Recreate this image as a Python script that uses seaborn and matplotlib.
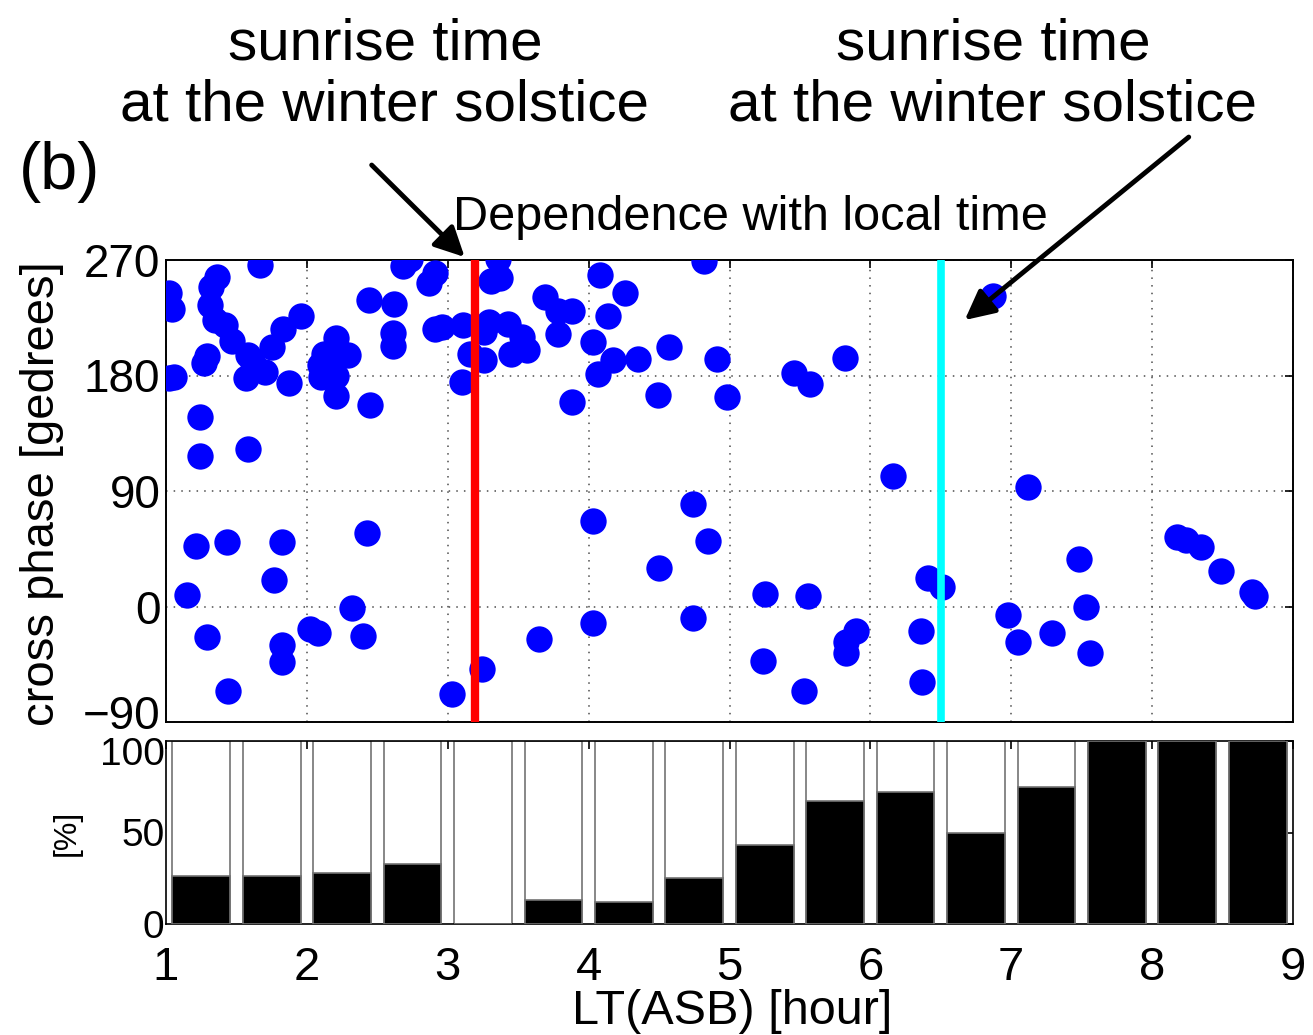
import numpy as np
import pandas as pd
import matplotlib
matplotlib.use("Agg")
import matplotlib.pyplot as plt
import matplotlib.transforms as mtransforms
import seaborn as sns

# ---------------- data ----------------
lt_hour = [
    1.02, 1.04, 1.36, 1.32, 1.31, 1.35, 1.42, 1.47, 1.67, 1.83, 1.96, 1.75, 1.58, 1.62, 1.70, 1.57,
    1.29, 1.27, 1.02, 1.06, 1.87, 1.24, 1.24, 1.58,
    2.21, 2.20, 2.12, 2.29, 2.09, 2.16, 2.10, 2.21, 2.21, 2.45, 2.44, 2.62, 2.61, 2.61, 2.68, 2.73,
    2.87, 2.91, 2.91, 2.96, 3.11, 3.16, 3.26, 3.10, 3.29, 3.26,
    3.36, 3.31, 3.37, 3.43, 3.53, 3.45, 3.56, 3.69, 3.78, 3.88, 3.78, 3.88, 4.08, 4.26, 4.14, 4.03,
    4.17, 4.07, 4.35, 4.57, 4.49, 4.82, 4.91, 4.98, 5.46, 5.57, 5.82, 6.16, 6.87, 7.12,
    1.21, 1.43, 1.82, 1.77, 1.15, 1.29, 1.82, 1.82, 1.44, 2.02, 2.08, 2.32, 2.40, 2.43, 3.03, 3.24,
    3.65, 4.03, 4.03, 4.50, 4.74, 4.85, 4.74, 5.25, 5.56, 5.24, 5.53, 5.90, 5.83, 5.83, 6.41, 6.51,
    6.36, 6.37, 6.98, 7.05, 7.29, 7.48, 7.53, 7.56, 8.18, 8.24, 8.35, 8.49, 8.71, 8.73,
]
cross_phase = [
    244, 232, 257, 249, 235, 223, 219, 207, 266, 216, 226, 202, 196, 190, 183, 178,
    195, 190, 178, 179, 174, 148, 117, 123,
    209, 200, 197, 196, 188, 187, 179, 180, 164, 157, 239, 236, 213, 203, 265, 271,
    252, 260, 216, 218, 219, 197, 192, 175, 222, 214,
    271, 254, 256, 220, 210, 197, 200, 241, 230, 230, 212, 159, 258, 244, 226, 206,
    192, 181, 193, 202, 165, 269, 193, 163, 182, 173, 194, 102, 242, 93,
    47, 50.5, 50, 21, 9, -23.5, -30, -43, -66, -17.5, -21, -1, -23, 57, -68, -49,
    -25, 67, -12.6, 30, 80, 51, -9, 10, 8, -42.5, -66, -19, -28, -36, 22, 15,
    -19, -59, -7, -28, -21, 37, 0, -36, 54, 52, 46, 28, 11, 8,
]
bin_center = [1.25, 1.75, 2.25, 2.75, 3.25, 3.75, 4.25, 4.75,
              5.25, 5.75, 6.25, 6.75, 7.25, 7.75, 8.25, 8.75]
percent = [26, 26, 28, 33, 0, 13, 12, 25, 43, 67, 72, 50, 75, 100, 100, 100]
full = [100] * len(bin_center)

sunrise_red = 3.19
sunrise_cyan = 6.50
y_ticks = [-90, 0, 90, 180, 270]
pct_ticks = [0, 50, 100]
x_ticks = [1, 2, 3, 4, 5, 6, 7, 8, 9]

df = pd.DataFrame({"LT": lt_hour, "phase": cross_phase})

# ---------------- style ----------------
sns.set_theme(style="white")
plt.rcParams["font.family"] = ["Liberation Sans", "DejaVu Sans"]
plt.rcParams["axes.unicode_minus"] = True
for key in ["text.color", "axes.labelcolor", "xtick.color", "ytick.color",
            "xtick.labelcolor", "ytick.labelcolor", "axes.edgecolor"]:
    plt.rcParams[key] = "black"

W, H = 1313, 1035
fig = plt.figure(figsize=(W / 100, H / 100), dpi=100)
ax = fig.add_axes([166 / W, 1 - 722 / H, 1127 / W, 462 / H])
ax2 = fig.add_axes([166 / W, 1 - 924 / H, 1127 / W, 183 / H])

# ---- top panel ----
sns.scatterplot(data=df, x="LT", y="phase", ax=ax, color=(0, 0, 1), s=360,
                linewidth=0, legend=False, zorder=3)
ax.axvline(sunrise_red, color="red", lw=6, zorder=4)
ax.axvline(sunrise_cyan, color=(0, 1, 1), lw=5.5, zorder=4)
ax.set_xlim(1, 9)
ax.set_ylim(-90, 270)
ax.set_xticks(x_ticks)
ax.set_xticklabels([])
ax.set_yticks(y_ticks)
ax.set_yticklabels([str(v).replace("-", "\u2212") for v in y_ticks])
ax.set_xlabel("")
ax.set_ylabel("")
ax.grid(True, linestyle=(0, (1, 4)), color="0.3", lw=1.1)
ax.tick_params(axis="both", direction="in", length=6, width=1.2, color="black",
               labelcolor="black", top=True, right=True, labelsize=33, pad=4)
for sp in ax.spines.values():
    sp.set_visible(True)
    sp.set_color("black")
    sp.set_linewidth(1.4)

# ---- bottom panel ----
ax2.bar(bin_center, full, width=0.41, color="white", edgecolor="0.45", linewidth=1.2, zorder=2)
ax2.bar(bin_center, percent, width=0.41, color="black", edgecolor="0.45", linewidth=1.2, zorder=3)
ax2.set_xlim(1, 9)
ax2.set_ylim(0, 100)
ax2.set_xticks(x_ticks)
ax2.set_yticks(pct_ticks)
ax2.grid(False)
ax2.tick_params(axis="y", direction="in", length=6, width=1.2, right=True, labelsize=28,
                pad=1, labelcolor="black")
ax2.tick_params(axis="x", direction="in", length=6, width=1.2, top=True, labelsize=34,
                pad=16, labelcolor="black")
for sp in ax2.spines.values():
    sp.set_visible(True)
    sp.set_color("black")
    sp.set_linewidth(1.2)

# nudge the two crowded tick labels apart (as in the reference)
up = mtransforms.ScaledTranslation(0, 10 / 100, fig.dpi_scale_trans)
down = mtransforms.ScaledTranslation(0, -10 / 100, fig.dpi_scale_trans)
t_low = ax.yaxis.get_major_ticks()[0]
t_low.label1.set_transform(t_low.label1.get_transform() + up)
t_top = ax2.yaxis.get_major_ticks()[-1]
t_top.label1.set_transform(t_top.label1.get_transform() + down)

# ---- texts ----
fig.text(750 / W, 1 - 218 / H, "Dependence with local time", fontsize=35, ha="center", va="center")
fig.text(385 / W, 1 - 75 / H, "sunrise time\nat the winter solstice", fontsize=42,
         ha="center", va="center", linespacing=1.15)
fig.text(993 / W, 1 - 75 / H, "sunrise time\nat the winter solstice", fontsize=42,
         ha="center", va="center", linespacing=1.15)
fig.text(60 / W, 1 - 172 / H, "(b)", fontsize=48, ha="center", va="center")
fig.text(42 / W, 1 - 494 / H, "cross phase [gedrees]", fontsize=34, rotation=90,
         ha="center", va="center")
fig.text(67 / W, 1 - 833 / H, "[%]", fontsize=23, rotation=90, ha="center", va="center")
fig.text(732 / W, 1 - 1012 / H, "LT(ASB) [hour]", fontsize=35, ha="center", va="center")

# ---- arrows ----
arrow_kw = dict(arrowstyle="-|>", color="black", lw=3.5, mutation_scale=45, shrinkA=0, shrinkB=0)
ax.annotate("", xy=(3.12, 272.3), xytext=(2.46, 344), xycoords="data", textcoords="data",
            arrowprops=arrow_kw, annotation_clip=False)
ax.annotate("", xy=(6.67, 223.2), xytext=(8.26, 365.8), xycoords="data", textcoords="data",
            arrowprops=arrow_kw, annotation_clip=False)

fig.savefig("out.png", dpi=100)
